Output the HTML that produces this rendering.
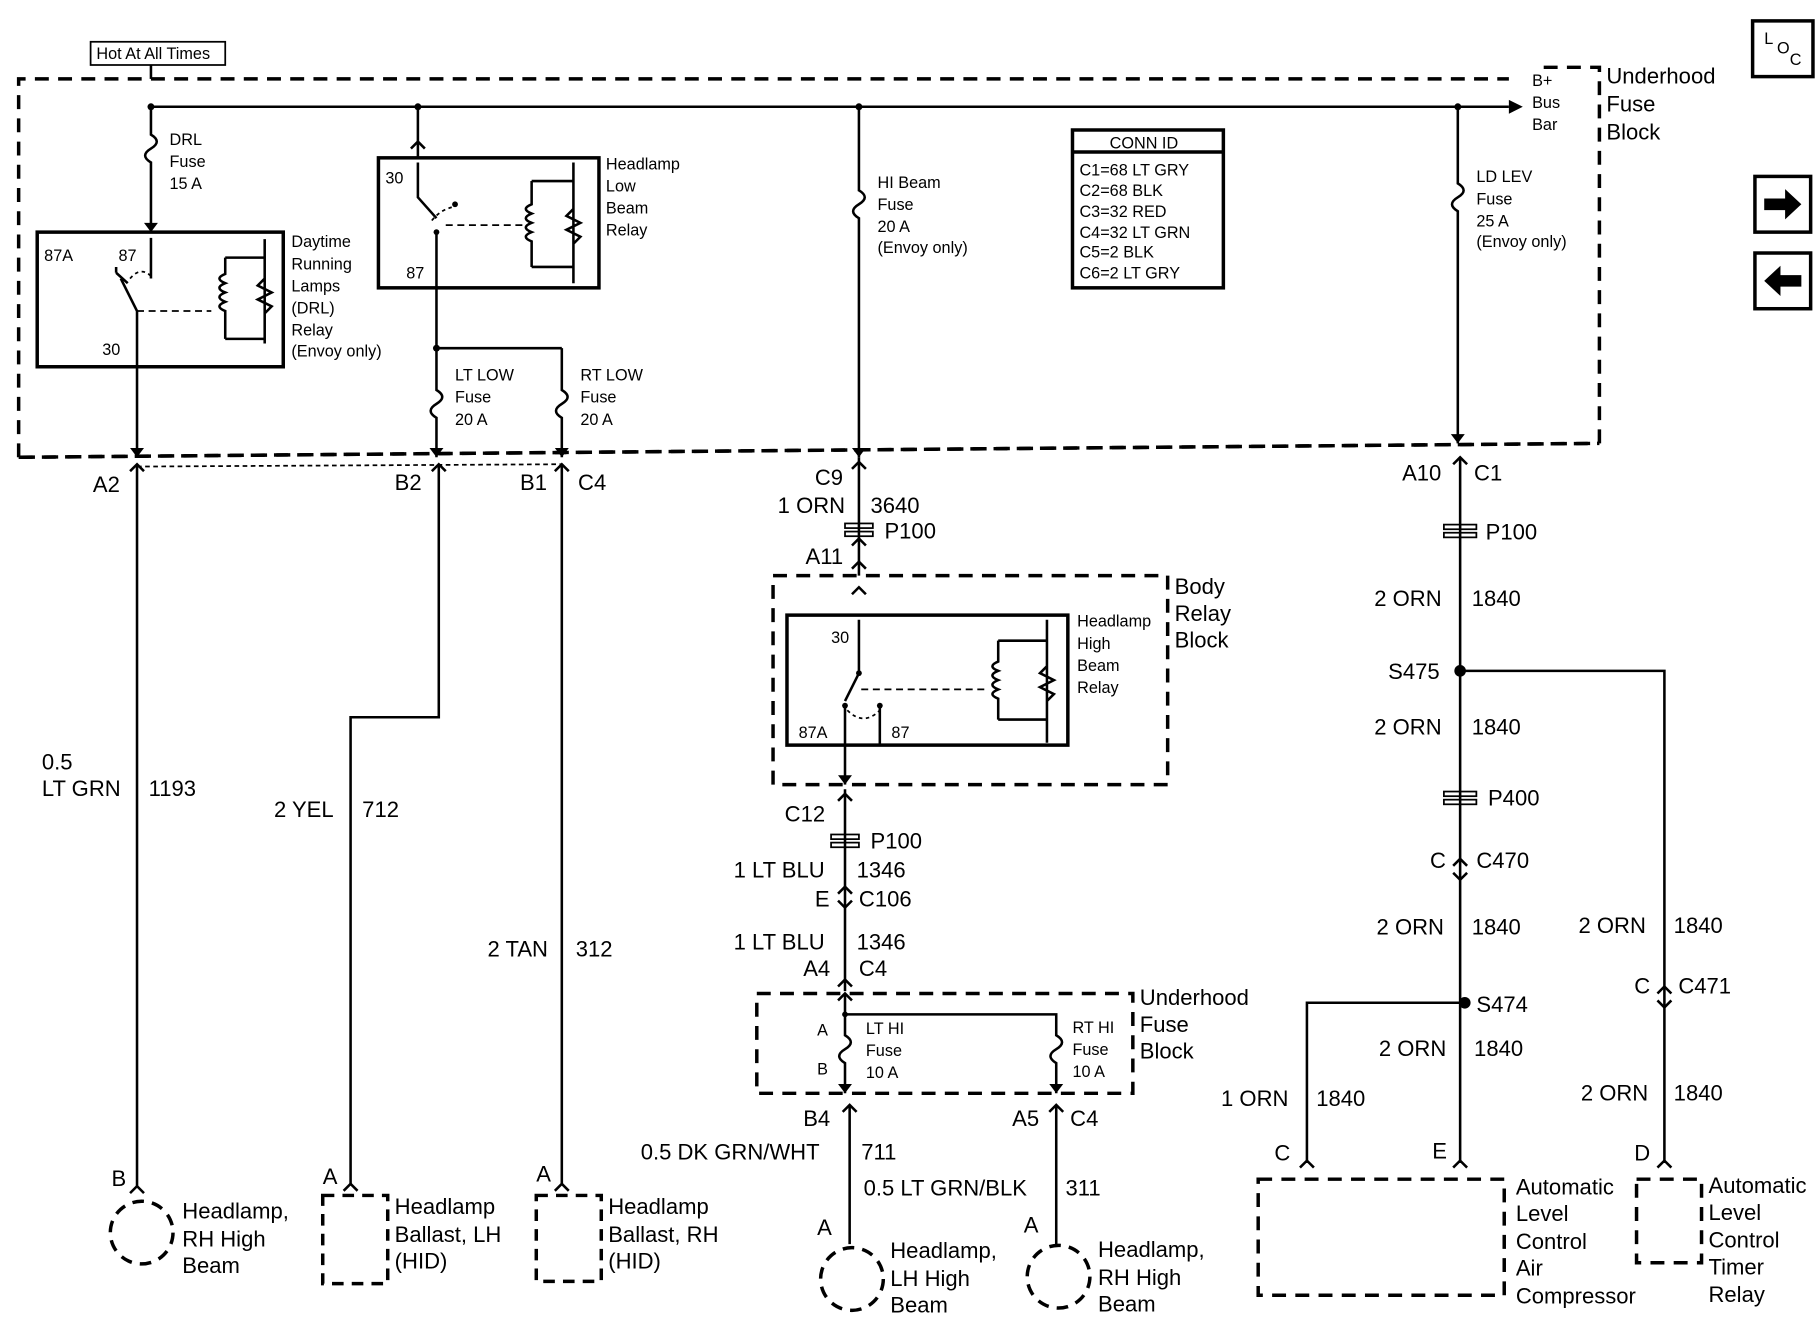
<!DOCTYPE html>
<html><head><meta charset="utf-8"><style>
html,body{margin:0;padding:0;background:#fff}
svg{display:block}
text{font-family:"Liberation Sans",Arial,sans-serif;fill:#000}
.s{font-size:14px}.m{font-size:19px}.l{font-size:21px}
.w{stroke:#000;stroke-width:2.2;fill:none}
.d{stroke:#000;stroke-width:3;fill:none;stroke-dasharray:12,8}
.b{stroke:#000;stroke-width:3;fill:none}
.t{stroke:#000;stroke-width:1.5;fill:none}
</style></head><body>
<svg width="1820" height="1344" viewBox="0 0 1568 1158" xmlns="http://www.w3.org/2000/svg">
<!-- Hot at all times -->
<rect x="78" y="36" width="116" height="20" class="t" stroke-width="2"/>
<text x="83" y="51" class="s">Hot At All Times</text>
<line x1="130" y1="56" x2="130" y2="68" class="w"/>
<!-- top dashed box -->
<path d="M16,394 L16,68 L1378,58 L1378,382 L16,394" class="d" style="stroke-dasharray:none;stroke:none"/>
<polyline points="16,394 16,68 1300,68" class="d"/>
<polyline points="1330,58 1378,58 1378,382 16,394" class="d"/>
<line x1="16" y1="394" x2="1378" y2="382" class="d"/>
<text x="1384" y="72" class="m">Underhood</text><text x="1384" y="96" class="m">Fuse</text><text x="1384" y="120" class="m">Block</text>
<!-- bus -->
<line x1="130" y1="92" x2="1300" y2="92" class="w"/>
<polygon points="1300,86 1312,92 1300,98"/>
<text x="1320" y="74" class="s">B+</text><text x="1320" y="93" class="s">Bus</text><text x="1320" y="112" class="s">Bar</text>
<circle cx="130" cy="92" r="3"/><circle cx="360" cy="92" r="3"/><circle cx="740" cy="92" r="3"/><circle cx="1256" cy="92" r="3"/>
<!-- DRL -->
<path d="M130,92 V116 q10,6 0,12 q-10,6 0,12 V200" class="w"/>
<polygon points="124,192 130,200 136,192"/>
<text x="146" y="125" class="s">DRL</text><text x="146" y="144" class="s">Fuse</text><text x="146" y="163" class="s">15 A</text>
<rect x="32" y="200" width="212" height="116" class="b"/>
<text x="38" y="225" class="s">87A</text><text x="102" y="225" class="s">87</text><text x="88" y="306" class="s">30</text>
<path d="M100,235 V230 M100,235 L110,244 M130,205 V240 M118,316 V268 L104,240" class="w"/>
<path d="M112,240 q10,-12 20,0" class="t" stroke-dasharray="3,3"/>
<line x1="118" y1="268" x2="182" y2="268" class="t" stroke-dasharray="6,4"/>
<path d="M228,206 V296 M194,222 H228 M194,292 H228 M194,222 V236 q-10,4 0,8 q-10,4 0,8 q-10,4 0,8 q-10,4 0,8 V292 M228,240 l-6,6 l12,6 l-12,6 l12,6 l-6,6" class="w"/>
<text x="251" y="213" class="s">Daytime</text><text x="251" y="232" class="s">Running</text><text x="251" y="251" class="s">Lamps</text><text x="251" y="270" class="s">(DRL)</text><text x="251" y="289" class="s">Relay</text><text x="251" y="307" class="s">(Envoy only)</text>
<line x1="118" y1="316" x2="118" y2="394" class="w"/><polygon points="112,386 118,394 124,386"/>
<!-- Low beam relay -->
<line x1="360" y1="92" x2="360" y2="136" class="w"/><polyline points="354,128 360,122 366,128" class="w"/>
<rect x="326" y="136" width="190" height="112" class="b"/>
<text x="332" y="158" class="s">30</text><text x="350" y="240" class="s">87</text>
<path d="M360,140 V170 L376,188 M376,200 V248" class="w"/><circle cx="392" cy="176" r="2.5"/><circle cx="376" cy="200" r="2.5"/>
<path d="M372,190 q8,-10 20,-12" class="t" stroke-dasharray="3,3"/>
<line x1="384" y1="194" x2="450" y2="194" class="t" stroke-dasharray="6,4"/>
<path d="M494,140 V244 M458,156 H494 M458,230 H494 M458,156 V176 q-10,4 0,8 q-10,4 0,8 q-10,4 0,8 q-10,4 0,8 V230 M494,180 l-6,6 l12,6 l-12,6 l12,6 l-6,6" class="w"/>
<text x="522" y="146" class="s">Headlamp</text><text x="522" y="165" class="s">Low</text><text x="522" y="184" class="s">Beam</text><text x="522" y="203" class="s">Relay</text>
<path d="M376,248 V300 H484 M376,300 V336 q10,6 0,12 q-10,6 0,12 V394 M484,300 V336 q10,6 0,12 q-10,6 0,12 V394" class="w"/>
<circle cx="376" cy="300" r="3"/>
<polygon points="370,386 376,394 382,386"/><polygon points="478,386 484,394 490,386"/>
<text x="392" y="328" class="s">LT LOW</text><text x="392" y="347" class="s">Fuse</text><text x="392" y="366" class="s">20 A</text>
<text x="500" y="328" class="s">RT LOW</text><text x="500" y="347" class="s">Fuse</text><text x="500" y="366" class="s">20 A</text>
<!-- HI beam fuse -->
<path d="M740,92 V164 q10,6 0,12 q-10,6 0,12 V394" class="w"/><polygon points="734,386 740,394 746,386"/>
<text x="756" y="162" class="s">HI Beam</text><text x="756" y="181" class="s">Fuse</text><text x="756" y="200" class="s">20 A</text><text x="756" y="218" class="s">(Envoy only)</text>
<!-- conn id -->
<rect x="924" y="112" width="130" height="136" class="b"/><line x1="924" y1="131" x2="1054" y2="131" class="b"/>
<text x="956" y="128" class="s">CONN ID</text>
<text x="930" y="151" class="s">C1=68 LT GRY</text><text x="930" y="169" class="s">C2=68 BLK</text><text x="930" y="187" class="s">C3=32 RED</text><text x="930" y="205" class="s">C4=32 LT GRN</text><text x="930" y="222" class="s">C5=2 BLK</text><text x="930" y="240" class="s">C6=2 LT GRY</text>
<!-- LD LEV -->
<path d="M1256,92 V158 q10,6 0,12 q-10,6 0,12 V382" class="w"/><polygon points="1250,374 1256,382 1262,374"/>
<text x="1272" y="157" class="s">LD LEV</text><text x="1272" y="176" class="s">Fuse</text><text x="1272" y="195" class="s">25 A</text><text x="1272" y="213" class="s">(Envoy only)</text>
<!-- nav icons -->
<rect x="1510" y="18" width="52" height="48" class="b"/><text x="1520" y="38" class="s">L</text><text x="1531" y="46" class="s">O</text><text x="1542" y="56" class="s">C</text>
<rect x="1512" y="152" width="48" height="48" class="b"/><polygon points="1520,171 1538,171 1538,163 1552,176 1538,189 1538,181 1520,181"/>
<rect x="1512" y="218" width="48" height="48" class="b"/><polygon points="1552,237 1534,237 1534,229 1520,242 1534,255 1534,247 1552,247"/>
<!-- left column wires -->
<line x1="118" y1="402" x2="484" y2="400" class="t" stroke-dasharray="4,3"/>
<path d="M112,406 L118,400 L124,406" class="w"/><path d="M372,406 L378,400 L384,406" class="w"/><path d="M478,406 L484,400 L490,406" class="w"/>
<text x="80" y="424" class="m">A2</text><text x="340" y="422" class="m">B2</text><text x="448" y="422" class="m">B1</text><text x="498" y="422" class="m">C4</text>
<line x1="118" y1="400" x2="118" y2="1022" class="w"/>
<path d="M378,400 V618 H302 V1020" class="w"/>
<line x1="484" y1="400" x2="484" y2="1020" class="w"/>
<text x="36" y="663" class="m">0.5</text><text x="36" y="686" class="m">LT GRN</text><text x="128" y="686" class="m">1193</text>
<text x="236" y="704" class="m">2 YEL</text><text x="312" y="704" class="m">712</text>
<text x="420" y="824" class="m">2 TAN</text><text x="496" y="824" class="m">312</text>
<path d="M112,1028 L118,1022 L124,1028" class="w"/><path d="M296,1026 L302,1020 L308,1026" class="w"/><path d="M478,1026 L484,1020 L490,1026" class="w"/>
<text x="96" y="1022" class="m">B</text><text x="278" y="1020" class="m">A</text><text x="462" y="1018" class="m">A</text>
<circle cx="122" cy="1062" r="27" class="d" style="stroke-dasharray:10,7"/>
<text x="157" y="1050" class="m">Headlamp,</text><text x="157" y="1074" class="m">RH High</text><text x="157" y="1097" class="m">Beam</text>
<rect x="278" y="1030" width="56" height="76" class="d" style="stroke-dasharray:10,7"/>
<text x="340" y="1046" class="m">Headlamp</text><text x="340" y="1070" class="m">Ballast, LH</text><text x="340" y="1093" class="m">(HID)</text>
<rect x="462" y="1030" width="56" height="74" class="d" style="stroke-dasharray:10,7"/>
<text x="524" y="1046" class="m">Headlamp</text><text x="524" y="1070" class="m">Ballast, RH</text><text x="524" y="1093" class="m">(HID)</text>
<!-- center column -->
<path d="M734,404 L740,398 L746,404" class="w"/>
<line x1="740" y1="394" x2="740" y2="496" class="w"/>
<text x="702" y="418" class="m">C9</text><text x="670" y="442" class="m">1 ORN</text><text x="750" y="442" class="m">3640</text>
<rect x="728" y="451" width="24" height="4" class="t"/><rect x="728" y="458" width="24" height="4" class="t"/><text x="762" y="464" class="m">P100</text>
<path d="M734,470 L740,464 L746,470 M734,490 L740,484 L746,490" class="w"/>
<text x="694" y="486" class="m">A11</text>
<rect x="666" y="496" width="340" height="180" class="d"/>
<text x="1012" y="512" class="m">Body</text><text x="1012" y="535" class="m">Relay</text><text x="1012" y="558" class="m">Block</text>
<path d="M734,512 L740,506 L746,512" class="w"/>
<rect x="678" y="530" width="242" height="112" class="b"/>
<text x="716" y="554" class="s">30</text><text x="688" y="636" class="s">87A</text><text x="768" y="636" class="s">87</text>
<path d="M740,534 V580 L728,604 M728,610 V642 M758,610 V642" class="w"/><circle cx="740" cy="580" r="2.5"/><circle cx="758" cy="608" r="2.5"/><circle cx="728" cy="608" r="2.5"/>
<path d="M730,612 q14,14 28,0" class="t" stroke-dasharray="3,3"/>
<line x1="742" y1="594" x2="852" y2="594" class="t" stroke-dasharray="6,4"/>
<path d="M902,534 V640 M860,552 H902 M860,620 H902 M860,552 V570 q-10,4 0,8 q-10,4 0,8 q-10,4 0,8 q-10,4 0,8 V620 M902,574 l-6,6 l12,6 l-12,6 l12,6 l-6,6" class="w"/>
<text x="928" y="540" class="s">Headlamp</text><text x="928" y="559" class="s">High</text><text x="928" y="578" class="s">Beam</text><text x="928" y="597" class="s">Relay</text>
<line x1="728" y1="642" x2="728" y2="676" class="w"/><polygon points="722,668 728,676 734,668"/>
<path d="M722,690 L728,684 L734,690" class="w"/>
<path d="M728,676 V690 H740 V854" class="w" style="display:none"/>
<line x1="728" y1="680" x2="728" y2="854" class="w"/>
<text x="676" y="708" class="m">C12</text>
<rect x="716" y="719" width="24" height="4" class="t"/><rect x="716" y="726" width="24" height="4" class="t"/><text x="750" y="731" class="m">P100</text>
<text x="632" y="756" class="m">1 LT BLU</text><text x="738" y="756" class="m">1346</text>
<text x="702" y="781" class="m">E</text><text x="740" y="781" class="m">C106</text>
<path d="M722,770 L728,764 L734,770 M722,776 L728,782 L734,776" class="w"/>
<text x="632" y="818" class="m">1 LT BLU</text><text x="738" y="818" class="m">1346</text>
<text x="692" y="841" class="m">A4</text><text x="740" y="841" class="m">C4</text>
<path d="M722,850 L728,844 L734,850" class="w"/>
<rect x="652" y="856" width="324" height="86" class="d"/>
<text x="982" y="866" class="m">Underhood</text><text x="982" y="889" class="m">Fuse</text><text x="982" y="912" class="m">Block</text>
<path d="M734,862 L728,856 L722,862" class="w"/>
<path d="M728,856 V874 H910 V892 q10,6 0,12 q-10,6 0,12 V942 M728,874 V892 q10,6 0,12 q-10,6 0,12 V942" class="w"/>
<circle cx="728" cy="874" r="2.5"/>
<text x="704" y="892" class="s">A</text><text x="704" y="926" class="s">B</text>
<text x="746" y="891" class="s">LT HI</text><text x="746" y="910" class="s">Fuse</text><text x="746" y="929" class="s">10 A</text>
<text x="924" y="890" class="s">RT HI</text><text x="924" y="909" class="s">Fuse</text><text x="924" y="928" class="s">10 A</text>
<polygon points="722,934 728,942 734,934"/><polygon points="904,934 910,942 916,934"/>
<path d="M726,958 L732,952 L738,958 M904,958 L910,952 L916,958" class="w"/>
<text x="692" y="970" class="m">B4</text><text x="872" y="970" class="m">A5</text><text x="922" y="970" class="m">C4</text>
<line x1="732" y1="952" x2="732" y2="1072" class="w"/><line x1="910" y1="952" x2="910" y2="1072" class="w"/>
<text x="552" y="999" class="m">0.5 DK GRN/WHT</text><text x="742" y="999" class="m">711</text>
<text x="744" y="1030" class="m">0.5 LT GRN/BLK</text><text x="918" y="1030" class="m">311</text>
<text x="704" y="1064" class="m">A</text><text x="882" y="1062" class="m">A</text>
<circle cx="734" cy="1102" r="27" class="d" style="stroke-dasharray:10,7"/>
<circle cx="912" cy="1100" r="27" class="d" style="stroke-dasharray:10,7"/>
<text x="767" y="1084" class="m">Headlamp,</text><text x="767" y="1108" class="m">LH High</text><text x="767" y="1131" class="m">Beam</text>
<text x="946" y="1083" class="m">Headlamp,</text><text x="946" y="1107" class="m">RH High</text><text x="946" y="1130" class="m">Beam</text>
<!-- right column -->
<path d="M1252,400 L1258,394 L1264,400" class="w"/>
<text x="1208" y="414" class="m">A10</text><text x="1270" y="414" class="m">C1</text>
<path d="M1258,394 V1002 M1258,578 H1434 V1002 M1258,864 H1126 V1002" class="w"/>
<circle cx="1258" cy="578" r="5"/><circle cx="1262" cy="864" r="5"/>
<rect x="1244" y="452" width="28" height="4" class="t"/><rect x="1244" y="459" width="28" height="4" class="t"/><text x="1280" y="465" class="m">P100</text>
<text x="1184" y="522" class="m">2 ORN</text><text x="1268" y="522" class="m">1840</text>
<text x="1196" y="585" class="m">S475</text>
<text x="1184" y="633" class="m">2 ORN</text><text x="1268" y="633" class="m">1840</text>
<rect x="1244" y="682" width="28" height="4" class="t"/><rect x="1244" y="689" width="28" height="4" class="t"/><text x="1282" y="694" class="m">P400</text>
<text x="1232" y="748" class="m">C</text><text x="1272" y="748" class="m">C470</text>
<path d="M1252,746 L1258,740 L1264,746 M1252,752 L1258,758 L1264,752" class="w"/>
<text x="1186" y="805" class="m">2 ORN</text><text x="1268" y="805" class="m">1840</text>
<text x="1272" y="872" class="m">S474</text>
<text x="1188" y="910" class="m">2 ORN</text><text x="1270" y="910" class="m">1840</text>
<text x="1052" y="953" class="m">1 ORN</text><text x="1134" y="953" class="m">1840</text>
<text x="1360" y="804" class="m">2 ORN</text><text x="1442" y="804" class="m">1840</text>
<text x="1408" y="856" class="m">C</text><text x="1446" y="856" class="m">C471</text>
<path d="M1428,856 L1434,850 L1440,856 M1428,862 L1434,868 L1440,862" class="w"/>
<text x="1362" y="948" class="m">2 ORN</text><text x="1442" y="948" class="m">1840</text>
<text x="1098" y="1000" class="m">C</text><text x="1234" y="998" class="m">E</text><text x="1408" y="1000" class="m">D</text>
<path d="M1120,1006 L1126,1000 L1132,1006 M1252,1006 L1258,1000 L1264,1006 M1428,1006 L1434,1000 L1440,1006" class="w"/>
<rect x="1084" y="1016" width="212" height="100" class="d"/>
<text x="1306" y="1029" class="m">Automatic</text><text x="1306" y="1052" class="m">Level</text><text x="1306" y="1076" class="m">Control</text><text x="1306" y="1099" class="m">Air</text><text x="1306" y="1123" class="m">Compressor</text>
<rect x="1410" y="1016" width="56" height="72" class="d"/>
<text x="1472" y="1028" class="m">Automatic</text><text x="1472" y="1051" class="m">Level</text><text x="1472" y="1075" class="m">Control</text><text x="1472" y="1098" class="m">Timer</text><text x="1472" y="1122" class="m">Relay</text>
</svg>
</body></html>
